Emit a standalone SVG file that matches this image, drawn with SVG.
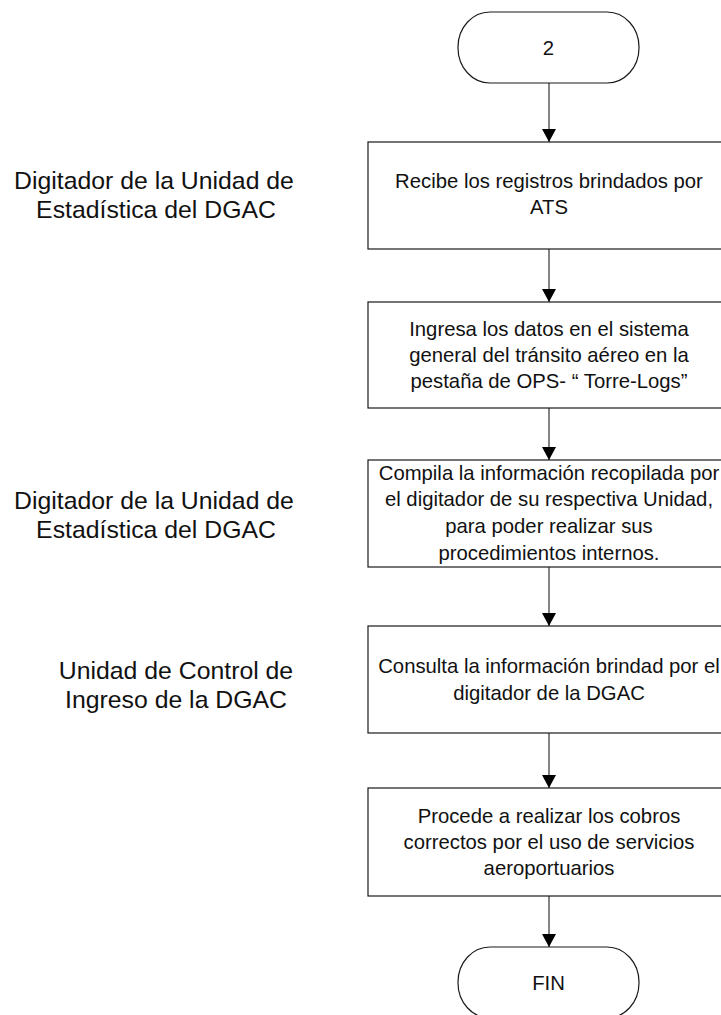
<svg xmlns="http://www.w3.org/2000/svg" width="721" height="1015" viewBox="0 0 721 1015">
<style>
.box{fill:#fff;stroke:#1a1a1a;stroke-width:1.2}
.term{fill:#fff;stroke:#1a1a1a;stroke-width:1.2}
.t{font-family:"Liberation Sans",Arial,sans-serif;font-size:20.3px;fill:#111;text-anchor:middle}
.lab{font-family:"Liberation Sans",Arial,sans-serif;font-size:24.8px;fill:#111;text-anchor:middle}
.c{stroke:#333;stroke-width:1.2;fill:none;marker-end:url(#ah)}
</style>
<defs>
<marker id="ah" markerUnits="userSpaceOnUse" markerWidth="14" markerHeight="15" refX="13" refY="7" orient="auto">
<path d="M0,0 L13,7 L0,14 Z" fill="#000"/>
</marker>
</defs>
<rect width="721" height="1015" fill="#fff"/>
<g id="connectors">
<line class="c" x1="549" y1="83" x2="549" y2="142"/>
<line class="c" x1="549" y1="249" x2="549" y2="302"/>
<line class="c" x1="549" y1="408" x2="549" y2="460"/>
<line class="c" x1="549" y1="567" x2="549" y2="626"/>
<line class="c" x1="549" y1="733" x2="549" y2="788"/>
<line class="c" x1="549" y1="896" x2="549" y2="947"/>
</g>
<g id="label1">
<text class="lab" x="154" y="189">Digitador de la Unidad de</text>
<text class="lab" x="156" y="218">Estadística del DGAC</text>
</g>
<g id="label2">
<text class="lab" x="154" y="509">Digitador de la Unidad de</text>
<text class="lab" x="156" y="538">Estadística del DGAC</text>
</g>
<g id="label3">
<text class="lab" x="176" y="679">Unidad de Control de</text>
<text class="lab" x="176" y="708">Ingreso de la DGAC</text>
</g>
<g id="start">
<rect class="term" x="458" y="12" width="181" height="71" rx="32" ry="35"/>
<text class="t" x="548.5" y="55">2</text>
</g>
<g id="box1">
<rect class="box" x="368" y="142" width="362" height="107"/>
<text class="t" x="549" y="188">Recibe los registros brindados por</text>
<text class="t" x="549" y="214">ATS</text>
</g>
<g id="box2">
<rect class="box" x="368" y="302" width="362" height="106"/>
<text class="t" x="549" y="336">Ingresa los datos en el sistema</text>
<text class="t" x="549" y="362">general del tránsito aéreo en la</text>
<text class="t" x="549" y="388">pestaña de OPS- “ Torre-Logs”</text>
</g>
<g id="box3">
<rect class="box" x="368" y="460" width="362" height="107"/>
<text class="t" x="549" y="480">Compila la información recopilada por</text>
<text class="t" x="549" y="506">el digitador de su respectiva Unidad,</text>
<text class="t" x="549" y="533">para poder realizar sus</text>
<text class="t" x="549" y="560">procedimientos internos.</text>
</g>
<g id="box4">
<rect class="box" x="368" y="626" width="362" height="107"/>
<text class="t" x="549" y="673">Consulta la información brindad por el</text>
<text class="t" x="549" y="700">digitador de la DGAC</text>
</g>
<g id="box5">
<rect class="box" x="368" y="788" width="362" height="108"/>
<text class="t" x="549" y="823">Procede a realizar los cobros</text>
<text class="t" x="549" y="849">correctos por el uso de servicios</text>
<text class="t" x="549" y="875">aeroportuarios</text>
</g>
<g id="end">
<rect class="term" x="458" y="947" width="181" height="71" rx="32" ry="35"/>
<text class="t" x="548.5" y="990">FIN</text>
</g>
</svg>
